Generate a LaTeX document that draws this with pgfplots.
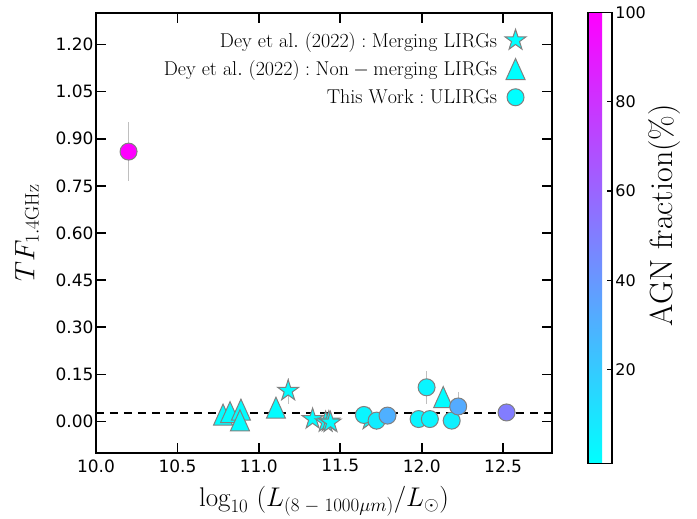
\RequirePackage{fix-cm}
\documentclass[border=0pt]{standalone}
\usepackage{fontspec}
\usepackage{pgfplots}
\usepackage{pgfplotstable}
\pgfplotsset{compat=1.18}
\newfontfamily\dejavu{DejaVu Sans}
\definecolor{cyanc}{RGB}{0,255,255}
\definecolor{edgec}{RGB}{128,128,128}

\pgfdeclareplotmark{mstar}{%
  \pgfpathmoveto{\pgfpointpolar{90}{\pgfplotmarksize}}%
  \pgfpathlineto{\pgfpointpolar{126}{0.382\pgfplotmarksize}}%
  \pgfpathlineto{\pgfpointpolar{162}{\pgfplotmarksize}}%
  \pgfpathlineto{\pgfpointpolar{198}{0.382\pgfplotmarksize}}%
  \pgfpathlineto{\pgfpointpolar{234}{\pgfplotmarksize}}%
  \pgfpathlineto{\pgfpointpolar{270}{0.382\pgfplotmarksize}}%
  \pgfpathlineto{\pgfpointpolar{306}{\pgfplotmarksize}}%
  \pgfpathlineto{\pgfpointpolar{342}{0.382\pgfplotmarksize}}%
  \pgfpathlineto{\pgfpointpolar{18}{\pgfplotmarksize}}%
  \pgfpathlineto{\pgfpointpolar{54}{0.382\pgfplotmarksize}}%
  \pgfpathclose
  \pgfusepathqfillstroke}
\pgfdeclareplotmark{mtri}{%
  \pgfpathmoveto{\pgfqpoint{0pt}{1.05\pgfplotmarksize}}%
  \pgfpathlineto{\pgfqpoint{-0.95\pgfplotmarksize}{-1.05\pgfplotmarksize}}%
  \pgfpathlineto{\pgfqpoint{0.95\pgfplotmarksize}{-1.05\pgfplotmarksize}}%
  \pgfpathclose
  \pgfusepathqfillstroke}

\pgfplotstableread{
x y c e
11.18 0.098 0 0.042
11.33 0.008 0 0.012
11.41 -0.002 0 0.010
11.43 0.000 0 0.010
11.44 -0.003 0 0.010
11.68 0.006 0 0.010
}\stars
\pgfplotstableread{
x y c e
10.780 0.022 0 0.015
10.823 0.030 0 0.015
10.890 0.038 0 0.015
10.884 0.004 0 0.015
11.105 0.044 0 0.015
12.132 0.078 0 0.020
}\tris
\pgfplotstableread{
x y c e
10.200 0.859 100 0.094
11.645 0.021 3 0.030
11.723 0.003 6 0.020
11.790 0.019 30 0.010
11.981 0.008 3 0.030
12.050 0.008 3 0.030
12.030 0.109 3 0.053
12.184 0.003 5 0.020
12.224 0.048 32 0.045
12.521 0.029 50 0.020
}\circs

\begin{document}
\begin{tikzpicture}
\begin{axis}[
  name=main,
  width=456pt, height=440pt, scale only axis,
  xmin=10, xmax=12.8, ymin=-0.1, ymax=1.3,
  xtick={10,10.5,11,11.5,12,12.5},
  ytick={0,0.15,0.3,0.45,0.6,0.75,0.9,1.05,1.2},
  tick align=inside, xtick pos=both, ytick pos=both,
  major tick length=10pt,
  every tick/.style={black, line width=1.8pt},
  axis line style={line width=1.8pt},
  /pgf/number format/assume math mode=true,
  xticklabel style={font=\dejavu\fontsize{17}{20}\selectfont, yshift=-3pt,
    /pgf/number format/.cd, fixed, fixed zerofill, precision=1},
  yticklabel style={font=\dejavu\fontsize{17}{20}\selectfont, xshift=1pt,
    /pgf/number format/.cd, fixed, fixed zerofill, precision=2},
  xlabel={$\log_{10}\ (L_{(8\;-\;1000\mu m)}/L_\odot)$},
  xlabel style={font=\fontsize{27}{30}\selectfont, at={([yshift=-48pt]axis description cs:0.5,0)}, anchor=center},
  ylabel={$TF_{1.4\mathrm{GHz}}$},
  ylabel style={font=\fontsize{28}{30}\selectfont, at={([xshift=-69pt]axis description cs:0,0.5)}, anchor=center, rotate=0},
  colormap={cool}{rgb255=(0,255,255) rgb255=(255,0,255)},
  point meta min=-1, point meta max=100,
  colorbar,
  colorbar style={
    at={(parent axis.north east)}, anchor=north west, xshift=27.3pt, yshift=0.7pt,
    width=24pt, height=451pt, scale only axis,
    ytick={20,40,60,80,100},
    yticklabel pos=right, ytick pos=right,
    /pgf/number format/assume math mode=true,
    yticklabel style={font=\dejavu\fontsize{16}{18}\selectfont},
    tick align=inside, major tick length=5pt,
    every tick/.style={black, line width=1.2pt},
    axis line style={line width=1.5pt},
    ylabel={AGN fraction(\%)},
    ylabel style={font=\fontsize{32}{34}\selectfont, at={([xshift=36pt]rel axis cs:1,0.55)}, rotate=0, anchor=north, inner sep=0pt},
  },
  legend style={draw=none, fill=none, font=\fontsize{20}{23}\selectfont,
    at={(axis description cs:0.95,0.968)}, anchor=north east, row sep=8pt, column sep=6pt},
  legend cell align=right,
  legend plot pos=right,
]
\addlegendimage{only marks, mark=mstar, mark size=11pt, mark options={draw=edgec, fill=cyanc, line width=1pt}}
\addlegendentry{$\mathrm{Dey\ et\ al.\ (2022) : Merging\ LIRGs}$}
\addlegendimage{only marks, mark=mtri, mark size=10pt, mark options={draw=edgec, fill=cyanc, line width=1pt}}
\addlegendentry{$\mathrm{Dey\ et\ al.\ (2022) : Non-merging\ LIRGs}$}
\addlegendimage{only marks, mark=*, mark size=8.5pt, mark options={draw=edgec, fill=cyanc, line width=1pt}}
\addlegendentry{$\mathrm{This\ Work : ULIRGs}$}

\addplot[forget plot, scatter, only marks, mark=mstar, mark size=11pt, scatter src=explicit,
  scatter/use mapped color={draw=edgec, fill=mapped color}, mark options={line width=1pt}]
  table[x=x, y=y, meta=c] {\stars};
\addplot[forget plot, draw=none, mark=none, error bars/.cd, y dir=both, y explicit, error mark=none,
  error bar style={draw=lightgray, line width=1.2pt}]
  table[x=x, y=y, y error=e] {\stars};

\addplot[forget plot, scatter, only marks, mark=mtri, mark size=10pt, scatter src=explicit,
  scatter/use mapped color={draw=edgec, fill=mapped color}, mark options={line width=1pt}]
  table[x=x, y=y, meta=c] {\tris};
\addplot[forget plot, draw=none, mark=none, error bars/.cd, y dir=both, y explicit, error mark=none,
  error bar style={draw=lightgray, line width=1.2pt}]
  table[x=x, y=y, y error=e] {\tris};

\addplot[forget plot, scatter, only marks, mark=*, mark size=8.5pt, scatter src=explicit,
  scatter/use mapped color={draw=edgec, fill=mapped color}, mark options={line width=1pt}]
  table[x=x, y=y, meta=c] {\circs};
\addplot[forget plot, draw=none, mark=none, error bars/.cd, y dir=both, y explicit, error mark=none,
  error bar style={draw=lightgray, line width=1.2pt}]
  table[x=x, y=y, y error=e] {\circs};

\addplot[forget plot, black, line width=2.6pt, dash pattern=on 8pt off 6pt] coordinates {(10,0.027) (12.8,0.027)};
\end{axis}
\pgfresetboundingbox
\path[use as bounding box] ([shift={(-96pt,-66pt)}]main.south west) rectangle ([shift={(145pt,13pt)}]main.north east);
\end{tikzpicture}
\end{document}
